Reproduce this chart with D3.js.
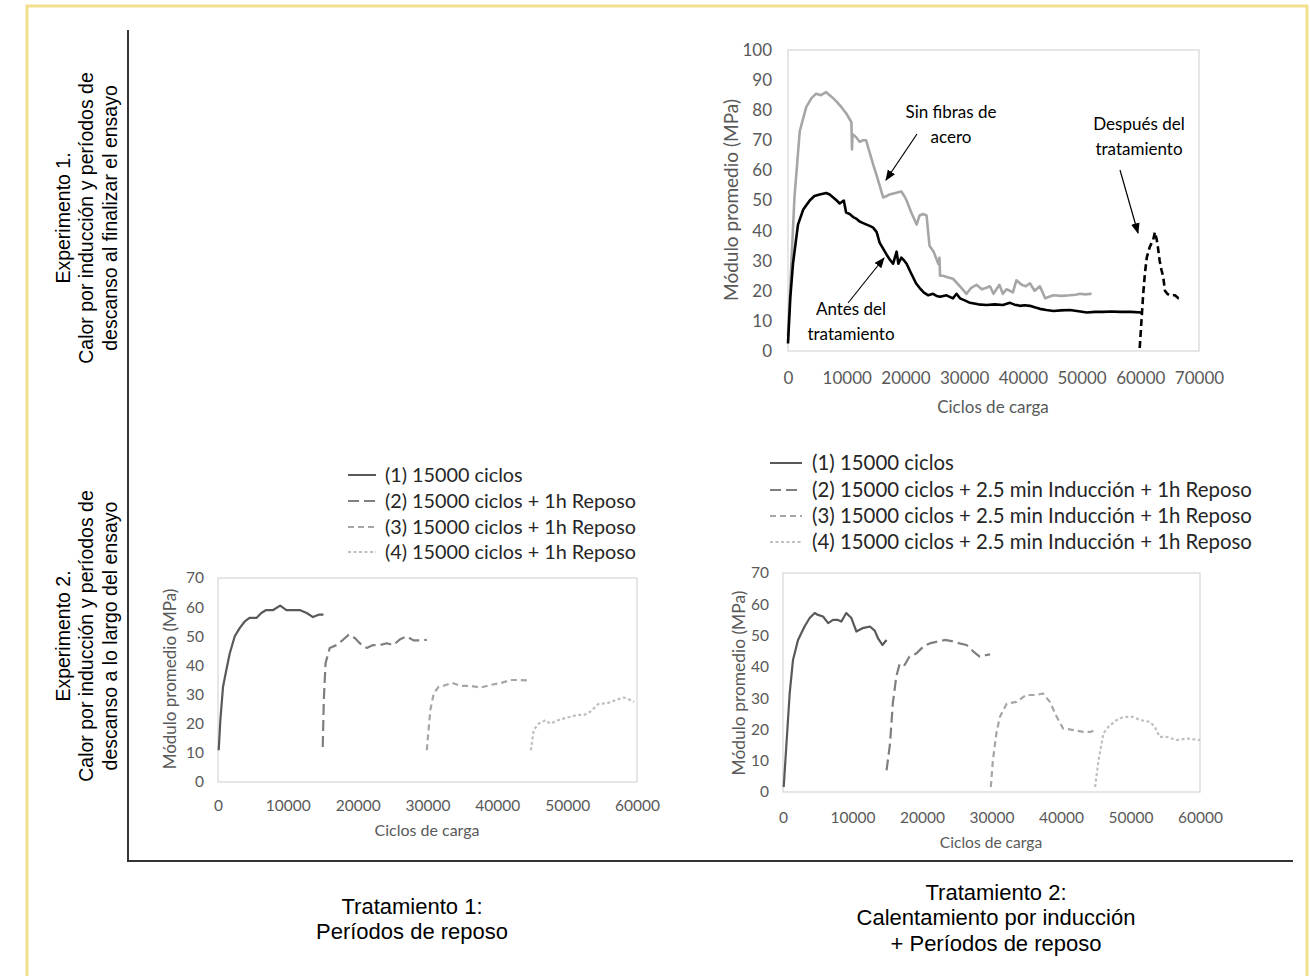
<!DOCTYPE html>
<html><head><meta charset="utf-8">
<script src="https://cdn.jsdelivr.net/npm/d3@7"></script>
<style>
body{margin:0;background:#fff;}
svg{display:block;}
</style></head>
<body>
<script>
// ---------- DATA ----------
// Top chart (Experimento 1)
const topSinFibras = [[0,5],[1100,51],[2000,73],[3100,81],[4000,84],[4800,85.5],[5600,85],[6500,86],[7400,84.5],[8200,83],[9100,81],[9900,79],[10500,77],[10800,76],[10900,67],[11000,72],[11600,71],[12200,69.5],[12800,70],[13300,70],[13900,66],[14500,62],[15300,57],[16200,51],[16800,51.5],[17300,52],[18300,52.5],[19300,53],[19800,51.5],[20200,50],[21000,46],[21900,42],[22400,45],[23000,45.5],[23600,45],[24100,35],[24800,33],[25600,29],[25800,31],[25900,25],[26400,25],[27200,24.5],[28100,24],[29300,21.5],[30400,19],[31200,21],[32100,22],[33000,20.5],[33800,21],[34400,21.5],[35000,19],[36000,22],[36600,19],[37200,20.5],[37800,20],[38300,19.5],[38900,23.5],[39800,22],[40500,21.5],[41200,22.5],[42000,20],[42900,21.5],[43800,17.5],[44500,18],[45200,18.5],[46600,18.3],[48000,18.5],[49000,18.7],[49700,19],[50700,18.8],[51700,19]];
const topAntes = [[0,2.5],[400,18],[850,29],[1700,42],[2600,47],[3700,50],[4500,51.5],[5400,52],[6500,52.5],[7100,52],[7700,51],[8300,50],[8800,49],[9500,50],[9900,46],[10500,45.5],[11100,44.5],[11600,44],[12200,43],[12800,42.5],[13400,42],[14000,41.5],[14500,41],[15100,39.5],[15600,36],[16200,34],[16800,32],[17300,30.5],[17900,29],[18500,33],[18800,29],[19300,31],[19800,30],[20200,29],[20800,26.5],[21300,24.5],[21800,22.5],[22400,21],[23100,19.5],[23900,18.5],[24700,19],[25300,18.3],[25900,18],[27000,18.5],[28100,17.5],[28700,19],[29300,17.5],[30100,16.8],[31000,16],[32400,15.5],[33800,15.3],[35200,15.5],[36600,15.3],[37800,16],[38600,15.4],[39500,15],[40300,15.2],[41200,15],[42000,14.5],[42900,14],[44000,13.6],[45200,13.3],[46500,13.5],[48000,13.6],[49500,13.2],[50900,12.8],[52300,13],[53700,13],[55100,13.1],[56500,13],[58400,13],[60200,12.8]];
const topDespues = [[59900,1],[60200,10],[60500,19],[60800,26],[61100,31],[61600,34.5],[62200,37],[62500,39.5],[62800,37],[63000,34.5],[63300,30],[63600,27],[63900,24.7],[64200,20],[64600,19],[65000,18.5],[65900,18.5],[66500,17.5],[67000,17.5]];
const topXTicks = [0,10000,20000,30000,40000,50000,60000,70000];
const topYTicks = [0,10,20,30,40,50,60,70,80,90,100];

// Bottom-left chart (Experimento 2, Tratamiento 1)
const t1s1 = [[100,10.9],[330,21],[720,32.7],[1200,38.5],[1670,44],[2400,50],[3100,52.8],[3800,55],[4500,56.3],[5500,56.3],[6200,58],[6900,59],[7900,59],[8900,60.5],[9800,59],[10800,59],[11700,59],[12700,58],[13600,56.6],[14400,57.4],[15100,57.4]];
const t1s2 = [[15000,12],[15150,28],[15400,40.8],[16000,46],[17000,47],[17900,48.8],[18700,50.5],[19600,49.4],[20300,47.6],[21300,46],[22200,47],[23200,47],[24200,47.6],[25100,47],[26100,49],[27000,50],[28000,48.6],[28900,48.6],[29900,48.8]];
const t1s3 = [[29900,10.9],[30400,24.7],[30900,30.4],[31600,32.7],[32300,33],[33500,34],[34700,33],[36100,33],[37600,32.4],[39000,33.3],[40400,33.9],[41900,35],[43300,35],[44700,34.8]];
const t1s4 = [[44800,10.9],[45200,17.8],[45900,20],[46900,21.2],[47600,20],[49000,21.5],[50500,22.4],[51400,23],[52400,23],[53300,24.1],[54500,26.8],[55700,27],[56900,28.1],[58100,29],[59100,28.1],[59600,27.5]];
const t1Legend = ["(1) 15000 ciclos","(2) 15000 ciclos + 1h Reposo","(3) 15000 ciclos + 1h Reposo","(4) 15000 ciclos + 1h Reposo"];

// Bottom-right chart (Experimento 2, Tratamiento 2)
const t2s1 = [[100,1.6],[500,15.5],[960,31.5],[1440,42.2],[2160,48.6],[3100,52.9],[3840,55.6],[4560,57.2],[5040,56.6],[5760,56.1],[6500,54],[7200,55],[7900,55],[8400,54.5],[9100,57.2],[9840,55.6],[10560,51.3],[11500,52.4],[12500,52.9],[13200,51.6],[13700,49],[14300,47],[14900,48.6]];
const t2s2 = [[14900,6.9],[15400,15.5],[15800,28.3],[16300,36.9],[16800,41.1],[17500,40.6],[18200,43.3],[19200,44.3],[20200,46.5],[21100,47.5],[22300,48.1],[23300,48.6],[24500,48.1],[25400,47.5],[26400,47],[27400,44.9],[28300,43.3],[29300,43.8],[29800,44]];
const t2s3 = [[29900,1.6],[30200,10.1],[30700,18.7],[31200,24],[32200,28.3],[33600,28.8],[35000,31],[36500,31],[37400,31.5],[38400,28.8],[39400,24],[40300,20.3],[41800,19.8],[43200,19.2],[44200,19.2],[44900,19.8]];
const t2s4 = [[44900,1.6],[45400,10.1],[46100,18.7],[46800,20.8],[48000,23],[49000,24],[50400,24],[51400,23],[52800,22.4],[53500,20.8],[54200,17.6],[55200,17.6],[56600,16.6],[58100,17.1],[60000,16.6]];
const t2Legend = ["(1) 15000 ciclos","(2) 15000 ciclos + 2.5 min Inducción + 1h Reposo","(3) 15000 ciclos + 2.5 min Inducción + 1h Reposo","(4) 15000 ciclos + 2.5 min Inducción + 1h Reposo"];

const bottomXTicks = [0,10000,20000,30000,40000,50000,60000];
const bottomYTicks = [0,10,20,30,40,50,60,70];

const yTitle = "Módulo promedio (MPa)";
const xTitle = "Ciclos de carga";

// ---------- DRAW ----------
const W = 1310, H = 976;
const svg = d3.select("body").append("svg").attr("width", W).attr("height", H);
const FONT = "Lato, 'Open Sans', sans-serif";
const AFONT = "'Liberation Sans', Arial, sans-serif";

// frame
svg.append("rect").attr("x",27).attr("y",6).attr("width",1280).attr("height",H+10)
  .attr("fill","none").attr("stroke","#f3e08e").attr("stroke-width",3);
svg.append("path").attr("d","M128,30V861H1293").attr("fill","none").attr("stroke","#333").attr("stroke-width",2);

function chart(cfg){
  const x = d3.scaleLinear().domain(cfg.xd).range([cfg.l,cfg.r]);
  const y = d3.scaleLinear().domain(cfg.yd).range([cfg.b,cfg.t]);
  const g = svg.append("g");
  g.append("rect").attr("x",cfg.l).attr("y",cfg.t).attr("width",cfg.r-cfg.l).attr("height",cfg.b-cfg.t)
    .attr("fill","none").attr("stroke","#d9d9d9").attr("stroke-width",1.3);
  const xa = g.append("g").attr("transform",`translate(0,${cfg.b})`)
    .call(d3.axisBottom(x).tickValues(cfg.xt).tickFormat(d3.format("d")).tickSize(0).tickPadding(cfg.xpad));
  xa.select(".domain").remove();
  xa.selectAll("text").attr("fill","#595959").style("font-family",FONT).style("font-size",cfg.fs+"px");
  const ya = g.append("g").attr("transform",`translate(${cfg.l},0)`)
    .call(d3.axisLeft(y).tickValues(cfg.yt).tickSize(0).tickPadding(cfg.ypad));
  ya.select(".domain").remove();
  ya.selectAll("text").attr("fill","#595959").style("font-family",FONT).style("font-size",cfg.fs+"px");
  g.append("text").attr("x",cfg.xtx).attr("y",cfg.xty).attr("text-anchor","middle")
    .attr("fill","#595959").style("font-family",FONT).style("font-size",cfg.xtfs+"px").text(xTitle);
  g.append("text").attr("transform",`translate(${cfg.ytx},${cfg.yty}) rotate(-90)`).attr("text-anchor","middle")
    .attr("fill","#595959").style("font-family",FONT).style("font-size",cfg.ytfs+"px").text(yTitle);
  const line = d3.line().x(d=>x(d[0])).y(d=>y(d[1]));
  cfg.series.forEach(s=>{
    g.append("path").datum(s.data).attr("d",line).attr("fill","none")
      .attr("stroke",s.color).attr("stroke-width",s.w).attr("stroke-dasharray",s.dash||null)
      .attr("stroke-linejoin","round");
  });
  return {x,y,g};
}

// Top chart
chart({xd:[0,70000],yd:[0,100],l:788,r:1199,t:50,b:351,xt:topXTicks,yt:topYTicks,fs:17,xtfs:17,ytfs:19,xpad:21,ypad:16,
  xtx:993,xty:413,ytx:738,yty:200,
  series:[
    {data:topSinFibras,color:"#a6a6a6",w:2.6},
    {data:topAntes,color:"#000",w:2.6},
    {data:topDespues,color:"#000",w:2.6,dash:"7,4"}
  ]});

// annotations
svg.append("defs").append("marker").attr("id","ah").attr("viewBox","0 0 10 10").attr("refX",9).attr("refY",5)
  .attr("markerWidth",9).attr("markerHeight",9).attr("orient","auto-start-reverse")
  .append("path").attr("d","M0,1L10,5L0,9z").attr("fill","#000");
const ann = [
  {lines:["Sin fibras de","acero"],x:951,y:118,ax1:917,ay1:134,ax2:886,ay2:180},
  {lines:["Antes del","tratamiento"],x:851,y:315,ax1:848,ay1:303,ax2:884,ay2:258},
  {lines:["Después del","tratamiento"],x:1139,y:130,ax1:1120,ay1:170,ax2:1138,ay2:233}
];
ann.forEach(a=>{
  const t = svg.append("text").attr("text-anchor","middle").style("font-family",FONT).style("font-size","17px").attr("fill","#000");
  a.lines.forEach((l,i)=>t.append("tspan").attr("x",a.x).attr("y",a.y+i*25).text(l));
  svg.append("line").attr("x1",a.ax1).attr("y1",a.ay1).attr("x2",a.ax2).attr("y2",a.ay2)
    .attr("stroke","#000").attr("stroke-width",1.2).attr("marker-end","url(#ah)");
});

const dashes = [null,"11,5","6,4","3,2.5"];
const cols = ["#595959","#7f7f7f","#a6a6a6","#bfbfbf"];

chart({xd:[0,60000],yd:[0,70],l:218,r:637,t:578,b:782,xt:bottomXTicks,yt:bottomYTicks,fs:15.5,xtfs:16,ytfs:17,xpad:18,ypad:14,
  xtx:427,xty:836,ytx:176,yty:679,
  series:[t1s1,t1s2,t1s3,t1s4].map((d,i)=>({data:d,color:cols[i],w:2.2,dash:dashes[i]}))});

chart({xd:[0,60000],yd:[0,70],l:783,r:1200,t:573,b:792,xt:bottomXTicks,yt:bottomYTicks,fs:15.5,xtfs:15.6,ytfs:17.4,xpad:20,ypad:14,
  xtx:991,xty:848,ytx:745,yty:683,
  series:[t2s1,t2s2,t2s3,t2s4].map((d,i)=>({data:d,color:cols[i],w:2.2,dash:dashes[i]}))});

function legend(items,lx1,lx2,tx,ys,fs){
  items.forEach((t,i)=>{
    svg.append("line").attr("x1",lx1).attr("x2",lx2).attr("y1",ys[i]).attr("y2",ys[i])
      .attr("stroke",cols[i]).attr("stroke-width",2).attr("stroke-dasharray",dashes[i]);
    svg.append("text").attr("x",tx).attr("y",ys[i]).attr("dy","0.35em").style("font-family",FONT)
      .style("font-size",fs+"px").attr("fill","#262626").text(t);
  });
}
legend(t1Legend,348,376,385,[475,501,527,552],19.8);
legend(t2Legend,770,802,812,[463,490,516,542],20.4);

// Side labels
function sideLabel(lines,cy){
  lines.forEach((l,i)=>{
    svg.append("text").attr("transform",`translate(${[63,86,110][i]},${cy}) rotate(-90)`)
      .attr("text-anchor","middle").attr("dy","0.35em").style("font-family",AFONT).style("font-size","19.5px")
      .attr("fill","#000").text(l);
  });
}
sideLabel(["Experimento 1.","Calor por inducción y períodos de","descanso al finalizar el ensayo"],218);
sideLabel(["Experimento 2.","Calor por inducción y períodos de","descanso a lo largo del ensayo"],636);

// Bottom labels
function bottomLabel(lines,cx,y0){
  lines.forEach((l,i)=>{
    svg.append("text").attr("x",cx).attr("y",y0+i*25.5).attr("text-anchor","middle").attr("dy","0.35em")
      .style("font-family",AFONT).style("font-size","22px").attr("fill","#000").text(l);
  });
}
bottomLabel(["Tratamiento 1:","Períodos de reposo"],412,906);
bottomLabel(["Tratamiento 2:","Calentamiento por inducción","+ Períodos de reposo"],996,892);
</script>
</body></html>
